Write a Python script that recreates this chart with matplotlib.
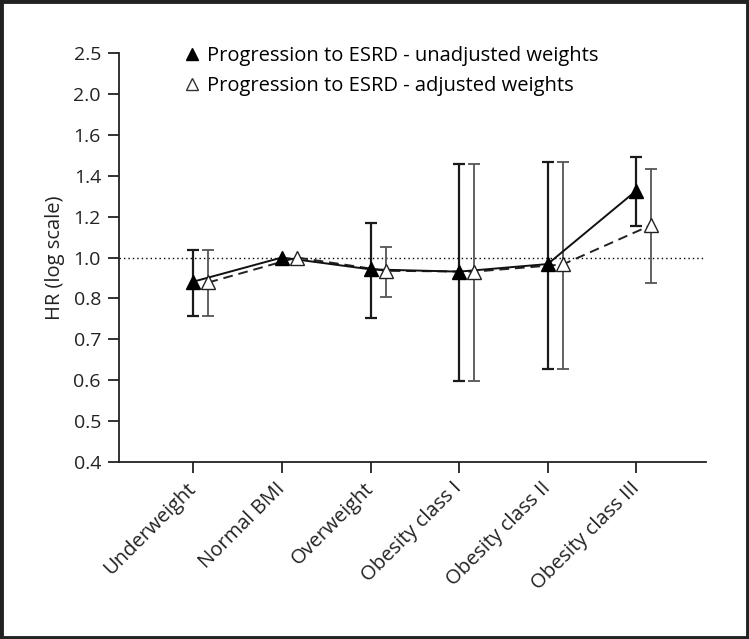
import numpy as np
import matplotlib
matplotlib.use("Agg")
import matplotlib.pyplot as plt
from matplotlib.patches import Rectangle

# Data
categories = ["Underweight", "Normal BMI", "Overweight",
              "Obesity class I", "Obesity class II", "Obesity class III"]

hr_unadj = [0.882, 1.00, 0.942, 0.931, 0.968, 1.327]
lo_unadj = [0.758, np.nan, 0.753, 0.599, 0.627, 1.154]
hi_unadj = [1.037, np.nan, 1.170, 1.457, 1.468, 1.490]

hr_adj = [0.878, 1.00, 0.935, 0.931, 0.966, 1.159]
lo_adj = [0.758, np.nan, 0.805, 0.599, 0.627, 0.874]
hi_adj = [1.037, np.nan, 1.053, 1.457, 1.468, 1.433]

y_ticks = [0.4, 0.5, 0.6, 0.7, 0.8, 1.0, 1.2, 1.4, 1.6, 2.0, 2.5]
y_tick_labels = ["0.4", "0.5", "0.6", "0.7", "0.8", "1.0", "1.2", "1.4", "1.6", "2.0", "2.5"]

plt.rcParams['font.family'] = ['Open Sans', 'DejaVu Sans']

# Ticks are evenly spaced on the original axis
idx = np.arange(len(y_ticks), dtype=float)

def fwd(v):
    return np.interp(v, y_ticks, idx)

def inv(p):
    return np.interp(p, idx, y_ticks)

fig = plt.figure(figsize=(7.49, 6.39), dpi=100)
ax = fig.add_axes([0.1589, 0.277, 0.7837, 0.640])
ax.set_yscale('function', functions=(fwd, inv))

x = np.arange(len(categories))
off = 0.17

# Reference line at HR = 1
ax.axhline(1.0, color='black', linestyle=(0, (1, 2.2)), linewidth=1.0, zorder=1)

# Error bars
hr_u = np.array(hr_unadj)
hr_a = np.array(hr_adj)
err_u = np.array([hr_u - np.array(lo_unadj), np.array(hi_unadj) - hr_u])
err_a = np.array([hr_a - np.array(lo_adj), np.array(hi_adj) - hr_a])
ax.errorbar(x, hr_u, yerr=err_u, fmt='none', ecolor='#1a1a1a',
            elinewidth=1.6, capsize=4, capthick=1.6, zorder=2)
ax.errorbar(x + off, hr_a, yerr=err_a, fmt='none', ecolor='#555555',
            elinewidth=1.3, capsize=4, capthick=1.3, zorder=2)

# Lines and markers
ax.plot(x + off, hr_a, color='#222222', linestyle=(0, (5, 3)), linewidth=1.4, zorder=3)
ax.plot(x, hr_u, color='#111111', linestyle='-', linewidth=1.4, zorder=4)
ax.plot(x + off, hr_a, linestyle='none', marker='^', markersize=10,
        markerfacecolor='white', markeredgecolor='#222222', markeredgewidth=1.0, zorder=5)
ax.plot(x, hr_u, linestyle='none', marker='^', markersize=10,
        markerfacecolor='black', markeredgecolor='black', zorder=6)

# Legend drawn as marker + text
ax.plot([], [], linestyle='none', marker='^', markersize=9, color='black',
        label='Progression to ESRD - unadjusted weights')
ax.plot([], [], linestyle='none', marker='^', markersize=9, markerfacecolor='white',
        markeredgecolor='#333333', label='Progression to ESRD - adjusted weights')
ax.legend(loc='upper left', bbox_to_anchor=(0.1, 1.038), frameon=False,
          fontsize=14.5, handlelength=0.6, handletextpad=0.45, labelspacing=0.5,
          borderaxespad=0)

ax.set_xlim(-0.839, 5.787)
ax.set_ylim(0.4, 2.5)
ax.set_yticks(y_ticks)
ax.set_yticklabels(y_tick_labels)
ax.yaxis.set_minor_locator(matplotlib.ticker.NullLocator())
ax.set_xticks(x)
ax.set_xticklabels(categories, rotation=45, ha='right', va='center',
                   rotation_mode='anchor', fontsize=14.5)

ax.tick_params(axis='both', direction='out', length=8, width=1.3,
               color='#222222', labelcolor='#222222')
ax.tick_params(axis='y', pad=5, labelsize=14)
ax.tick_params(axis='x', pad=9)

for s in ['top', 'right']:
    ax.spines[s].set_visible(False)
for s in ['left', 'bottom']:
    ax.spines[s].set_linewidth(1.3)
    ax.spines[s].set_color('#222222')

ax.set_ylabel('HR (log scale)', fontsize=14.5, color='#222222', labelpad=6)

# Outer frame of the figure
fig.patches.append(Rectangle((0.002, 0.002), 0.996, 0.996, transform=fig.transFigure,
                             fill=False, edgecolor='#222222', linewidth=3.5))

fig.savefig('out.png', dpi=100)
